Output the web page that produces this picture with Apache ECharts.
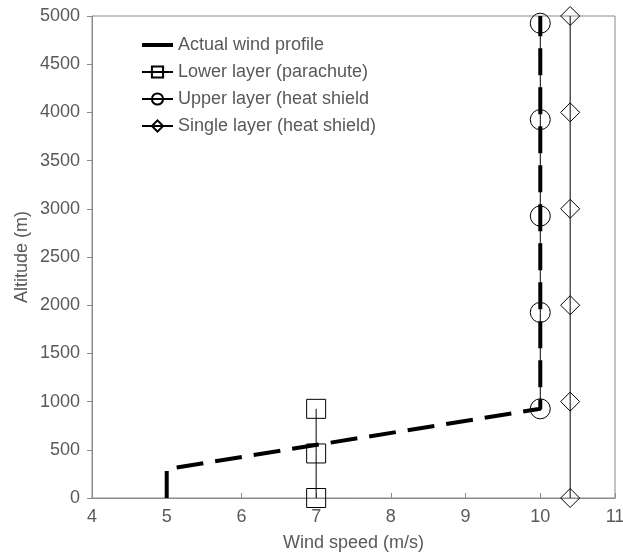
<!DOCTYPE html>
<html>
<head>
<meta charset="utf-8">
<script src="https://cdn.jsdelivr.net/npm/echarts@6/dist/echarts.min.js"></script>
<style>
  html, body { margin: 0; padding: 0; background: #fff; }
  #chart { width: 623px; height: 553px; }
</style>
</head>
<body>
<div id="chart"></div>
<script>
// Datos
const actualSpeed = [5, 5, 10, 10];
const actualAlt = [0, 300, 925, 5000];
const lowerSpeed = [7, 7, 7];
const lowerAlt = [0, 462, 925];
const upperSpeed = [10, 10, 10, 10, 10];
const upperAlt = [925, 1925, 2925, 3925, 4925];
const singleSpeed = [10.4, 10.4, 10.4, 10.4, 10.4, 10.4];
const singleAlt = [0, 1000, 2000, 3000, 4000, 5000];
const seriesNames = ['Actual wind profile', 'Lower layer (parachute)', 'Upper layer (heat shield', 'Single layer (heat shield)'];

const pairs = (xs, ys) => xs.map((x, i) => [x, ys[i]]);

const grey = '#595959';
const axisGrey = '#8a8a8a';
const font = '"Liberation Sans", Arial, sans-serif';

const myChart = echarts.init(document.getElementById('chart'));

const markerStyle = { color: 'rgba(0,0,0,0)', borderColor: '#000', borderWidth: 1 };

const option = {
  animation: false,
  textStyle: { fontFamily: font },
  grid: {
    left: 92, right: 8, top: 16, bottom: 55,
    outerBoundsMode: 'none',
    show: true, borderColor: axisGrey, borderWidth: 1
  },
  legend: {
    left: 135,
    top: 31,
    orient: 'vertical',
    itemWidth: 31,
    itemHeight: 14,
    itemGap: 9,
    textStyle: { fontSize: 18, color: grey, fontFamily: font, lineHeight: 18 },
    data: [
      { name: seriesNames[0], itemStyle: { opacity: 0 }, lineStyle: { type: 'solid', width: 4, opacity: 1 } },
      { name: seriesNames[1] },
      { name: seriesNames[2] },
      { name: seriesNames[3] }
    ]
  },
  xAxis: {
    type: 'value',
    min: 4,
    max: 11,
    interval: 1,
    name: 'Wind speed (m/s)',
    nameLocation: 'middle',
    nameGap: 36,
    nameTextStyle: { fontSize: 18, color: grey, fontFamily: font },
    axisLine: { show: true, lineStyle: { color: axisGrey } },
    axisTick: { show: true, inside: true, length: 5, lineStyle: { color: axisGrey } },
    axisLabel: { fontSize: 18, color: grey, margin: 10, fontFamily: font },
    splitLine: { show: false }
  },
  yAxis: {
    type: 'value',
    min: 0,
    max: 5000,
    interval: 500,
    name: 'Altitude (m)',
    nameLocation: 'middle',
    nameRotate: 90,
    nameGap: 61,
    nameMoveOverlap: false,
    nameTextStyle: { fontSize: 18, color: grey, fontFamily: font },
    axisLine: { show: true, lineStyle: { color: axisGrey } },
    axisTick: { show: true, inside: false, length: 5, lineStyle: { color: axisGrey } },
    axisLabel: { fontSize: 18, color: grey, margin: 12, fontFamily: font, formatter: v => String(v) },
    splitLine: { show: false }
  },
  series: [
    {
      name: seriesNames[1],
      type: 'line',
      data: pairs(lowerSpeed, lowerAlt),
      symbol: 'rect',
      symbolSize: 19,
      itemStyle: markerStyle,
      lineStyle: { color: '#000', width: 1 },
      z: 2
    },
    {
      name: seriesNames[2],
      type: 'line',
      data: pairs(upperSpeed, upperAlt),
      symbol: 'circle',
      symbolSize: 20,
      itemStyle: markerStyle,
      lineStyle: { color: '#000', width: 1 },
      z: 2
    },
    {
      name: seriesNames[3],
      type: 'line',
      data: pairs(singleSpeed, singleAlt),
      symbol: 'diamond',
      symbolSize: [19, 19],
      itemStyle: markerStyle,
      lineStyle: { color: '#000', width: 1 },
      z: 2
    },
    {
      name: seriesNames[0],
      type: 'line',
      data: pairs(actualSpeed, actualAlt),
      showSymbol: false,
      symbol: 'none',
      itemStyle: { color: '#000' },
      lineStyle: { color: '#000', width: 4, type: [27, 12], cap: 'butt' },
      z: 3
    }
  ]
};

myChart.setOption(option);
</script>
</body>
</html>
